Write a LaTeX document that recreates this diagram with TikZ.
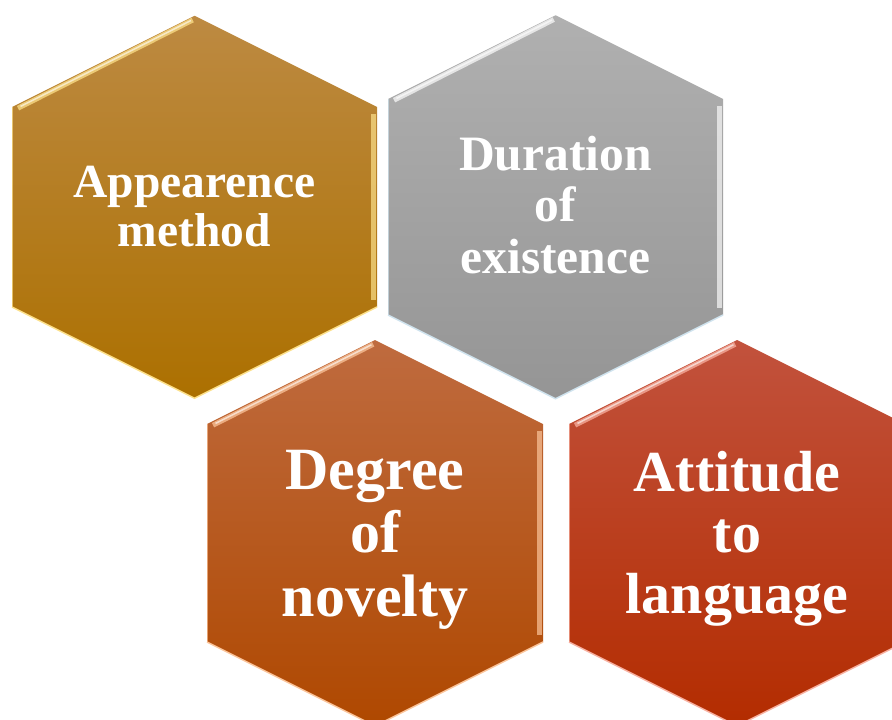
\documentclass[tikz,border=0pt]{standalone}
\usepackage{fontspec}
\setmainfont{Liberation Serif}

\definecolor{methodTop}{HTML}{BD8A42}
\definecolor{methodMid}{HTML}{B47C0A}
\definecolor{methodBot}{HTML}{AC7000}
\definecolor{methodLight}{HTML}{FCE08A}
\definecolor{durationTop}{HTML}{B0B0B0}
\definecolor{durationMid}{HTML}{A2A2A2}
\definecolor{durationBot}{HTML}{959595}
\definecolor{durationLight}{HTML}{F8F8F8}
\definecolor{durationEdge}{HTML}{CFE3EE}
\definecolor{noveltyTop}{HTML}{BF6B3F}
\definecolor{noveltyMid}{HTML}{BA5300}
\definecolor{noveltyBot}{HTML}{AF4800}
\definecolor{noveltyLight}{HTML}{FBC49A}
\definecolor{attitudeTop}{HTML}{C2523D}
\definecolor{attitudeMid}{HTML}{BB3400}
\definecolor{attitudeBot}{HTML}{B32C00}
\definecolor{attitudeLight}{HTML}{F8B0A0}

\begin{document}
\begin{tikzpicture}[x=1pt, y=-1pt,
    hexlabel/.style={text=white, font=\bfseries, align=center, inner sep=0pt}]
        \clip (0,0) rectangle (892,720);
        % Hexagons: name / centre x / centre y / half width / half side / colours
        \foreach \name/\cx/\cy/\hw/\hs/\ctop/\cmid/\cbot/\clight/\cedge in {
            Method/194.5/207/182.5/100/methodTop/methodMid/methodBot/methodLight/methodLight,
            Duration/555.5/207/167.5/108/durationTop/durationMid/durationBot/durationLight/durationEdge,
            Novelty/375/533/168/109/noveltyTop/noveltyMid/noveltyBot/noveltyLight/noveltyLight,
            Attitude/737/533/168/109/attitudeTop/attitudeMid/attitudeBot/attitudeLight/attitudeLight} {
            % Corners
            \coordinate (\name-c) at (\cx,\cy);
            \coordinate (\name-t) at (\cx,\cy-\hs-0.5*\hw);
            \coordinate (\name-b) at (\cx,\cy+\hs+0.5*\hw);
            \coordinate (\name-ul) at (\cx-\hw,\cy-\hs);
            \coordinate (\name-ll) at (\cx-\hw,\cy+\hs);
            \coordinate (\name-ur) at (\cx+\hw,\cy-\hs);
            \coordinate (\name-lr) at (\cx+\hw,\cy+\hs);
            % Body
            \shade[top color=\ctop, middle color=\cmid, bottom color=\cbot]
                (\name-t) -- (\name-ur) -- (\name-lr) -- (\name-b)
                -- (\name-ll) -- (\name-ul) -- cycle;
            % Bevel
            \draw[\clight, line width=5pt, opacity=0.75, shorten <=5pt, shorten >=2pt]
                ([xshift=1.6pt, yshift=-3.4pt]\name-ul) -- ([yshift=-3.4pt]\name-t);
            \draw[white, line width=1.5pt, opacity=0.6, shorten <=8pt, shorten >=4pt]
                ([xshift=1.4pt, yshift=-3pt]\name-ul) -- ([yshift=-3pt]\name-t);
            \draw[\clight, line width=5pt, opacity=0.7, shorten <=7pt, shorten >=7pt]
                ([xshift=-4pt]\name-ur) -- ([xshift=-4pt]\name-lr);
            \draw[\cedge, line width=1.5pt] (\name-ll) -- (\name-b) -- (\name-lr);
            \draw[\cedge, line width=1pt, opacity=0.7] (\name-ul) -- (\name-ll);
        }
        % Labels
        \node[hexlabel, font=\bfseries\fontsize{47.5}{49}\selectfont]
            (method) at (Method-c) {Appearence\\method};
        \node[hexlabel, font=\bfseries\fontsize{49.5}{51.5}\selectfont, yshift=2pt]
            (duration) at (Duration-c) {Duration\\of\\existence};
        \node[hexlabel, font=\bfseries\fontsize{60}{63.5}\selectfont, yshift=-6.5pt]
            (novelty) at (Novelty-c) {Degree\\of\\novelty};
        \node[hexlabel, font=\bfseries\fontsize{58}{61}\selectfont, yshift=-6pt]
            (attitude) at (Attitude-c) {Attitude\\to\\language};
    \end{tikzpicture}
\end{document}
